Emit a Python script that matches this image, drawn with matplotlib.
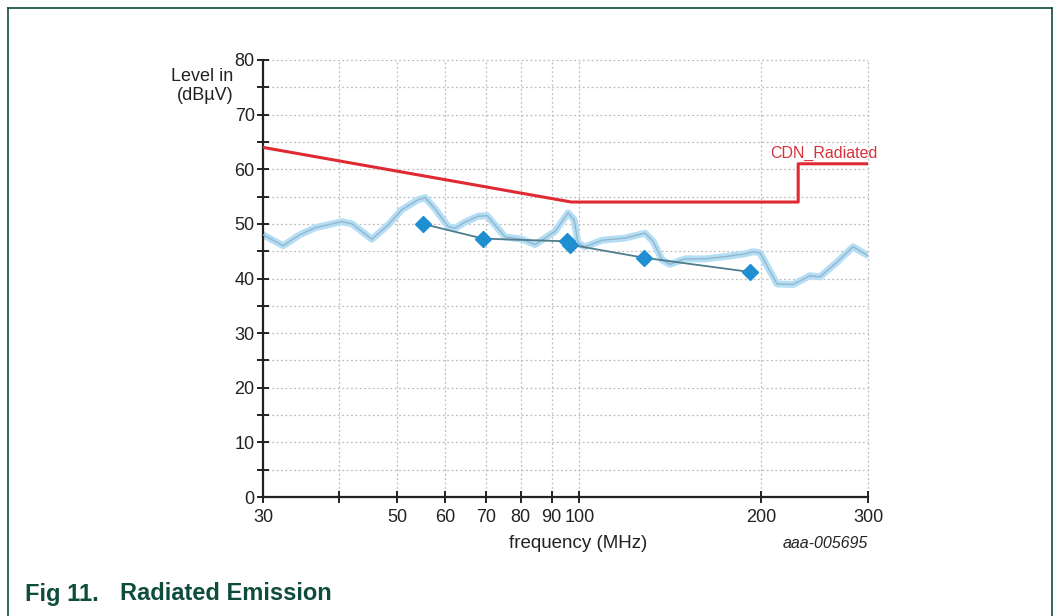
import matplotlib
matplotlib.use("Agg")
import matplotlib.pyplot as plt
from matplotlib.lines import Line2D

plt.rcParams['font.family'] = ['Liberation Sans', 'DejaVu Sans']

# Measured spectrum trace (frequency MHz, level dBuV)
trace_freq = [30.0, 32.4, 34.5, 36.6, 40.5, 42.1, 45.4, 48.3, 50.9, 54.1, 55.6, 57.7,
              60.7, 62.3, 64.7, 68.0, 70.4, 75.4, 80.4, 84.5, 91.1, 95.8, 98.0, 99.5,
              102.2, 109.0, 119.0, 128.4, 132.4, 137.0, 141.2, 149.5, 161.4, 174.0,
              187.9, 193.7, 198.9, 205.0, 212.2, 225.5, 240.5, 249.9, 266.6, 283.4, 298.8]
trace_level = [48.0, 46.0, 48.0, 49.3, 50.4, 50.0, 47.2, 49.8, 52.6, 54.4, 54.8, 52.8,
               49.5, 49.2, 50.3, 51.4, 51.5, 47.6, 47.2, 46.2, 48.6, 52.0, 50.8, 46.5,
               45.8, 47.0, 47.4, 48.3, 46.8, 43.4, 42.6, 43.6, 43.6, 44.0,
               44.5, 44.9, 44.7, 42.0, 39.0, 38.9, 40.5, 40.3, 43.0, 45.8, 44.3]

# Quasi-peak measurement points
qp_freq = [55.1, 69.3, 95.5, 96.5, 127.9, 191.4]
qp_level = [50.0, 47.3, 46.8, 46.2, 43.8, 41.2]

# Limit line CDN_Radiated
limit_freq = [30, 97, 230, 230, 300]
limit_level = [64, 54, 54, 61, 61]

xticks = [30, 40, 50, 60, 70, 80, 90, 100, 200, 300]
xticklabels = ['30', '', '50', '60', '70', '80', '90', '100', '200', '300']
yticks = [0, 10, 20, 30, 40, 50, 60, 70, 80]
yminor = [5, 15, 25, 35, 45, 55, 65, 75]

W, H = 1061, 616
fig = plt.figure(figsize=(W / 100, H / 100), dpi=100)
ax = fig.add_axes([263 / W, 1 - 497 / H, (868 - 263) / W, (497 - 60) / H])
ax.set_xscale('log')
ax.set_xlim(30, 300)
ax.set_ylim(0, 80)

# grid
gridc = '#bdbdbd'
for f in xticks[1:]:
    ax.axvline(f, color=gridc, lw=0.9, ls=(0, (1.5, 2)), zorder=1, clip_on=False)
for v in yticks[1:] + yminor:
    ax.axhline(v, color=gridc, lw=0.9, ls=(0, (1.5, 2)), zorder=1, clip_on=False)

# trace
ax.plot(trace_freq, trace_level, color='#b3def6', lw=5, zorder=2,
        solid_capstyle='round', solid_joinstyle='round')
ax.plot(trace_freq, trace_level, color='#95b6ca', lw=1.0, zorder=3)

# limit
ax.plot(limit_freq, limit_level, color='#e02a33', lw=2.2, zorder=4)
ax.text(207, 62.9, 'CDN_Radiated', color='#d9303a', fontsize=11.5, ha='left',
        va='center', clip_on=False, zorder=3)

# qp markers
ax.plot(qp_freq, qp_level, color='#4f7d8c', lw=1.3, zorder=5)
ax.plot(qp_freq, qp_level, ls='none', marker='D', ms=8.5, color='#1f8fd2',
        markeredgecolor='#1f8fd2', zorder=6)

for s in ['top', 'right']:
    ax.spines[s].set_visible(False)
for s in ['left', 'bottom']:
    ax.spines[s].set_linewidth(1.6)
    ax.spines[s].set_color('#222222')

ax.xaxis.set_minor_locator(matplotlib.ticker.NullLocator())
ax.set_xticks(xticks)
ax.set_xticklabels(xticklabels)
ax.set_yticks(yticks)
ax.set_yticks(yminor, minor=True)
ax.tick_params(axis='both', which='major', direction='inout', length=8, width=1.4,
               labelsize=13, color='#222222', labelcolor='#222222')
ax.tick_params(axis='y', which='minor', direction='inout', length=8, width=1.4,
               color='#222222')
ax.tick_params(axis='y', pad=2)
ax.tick_params(axis='x', pad=5)

fig.text(233 / W, 1 - 86 / H, 'Level in\n(dBµV)', ha='right', va='center',
         fontsize=13, color='#222222', linespacing=1.2)
fig.text(578 / W, 1 - 543 / H, 'frequency (MHz)', ha='center', va='center',
         fontsize=13.5, color='#222222')
fig.text(868 / W, 1 - 544 / H, 'aaa-005695', ha='right', va='center',
         fontsize=11.5, style='italic', color='#222222')

green = '#0e4d3c'
fig.text(25 / W, 1 - 594 / H, 'Fig 11.', ha='left', va='center', fontsize=17,
         fontweight='bold', color=green)
fig.text(120 / W, 1 - 594 / H, 'Radiated Emission', ha='left', va='center', fontsize=17,
         fontweight='bold', color=green)

# frame
fig.add_artist(Line2D([8 / W, 8 / W], [0, 1 - 8 / H], color=green, lw=1.2))
fig.add_artist(Line2D([8 / W, 1052 / W], [1 - 8 / H, 1 - 8 / H], color=green, lw=1.2))
fig.add_artist(Line2D([1052 / W, 1052 / W], [0, 1 - 8 / H], color=green, lw=1.2))

fig.savefig('out.png', dpi=100)
